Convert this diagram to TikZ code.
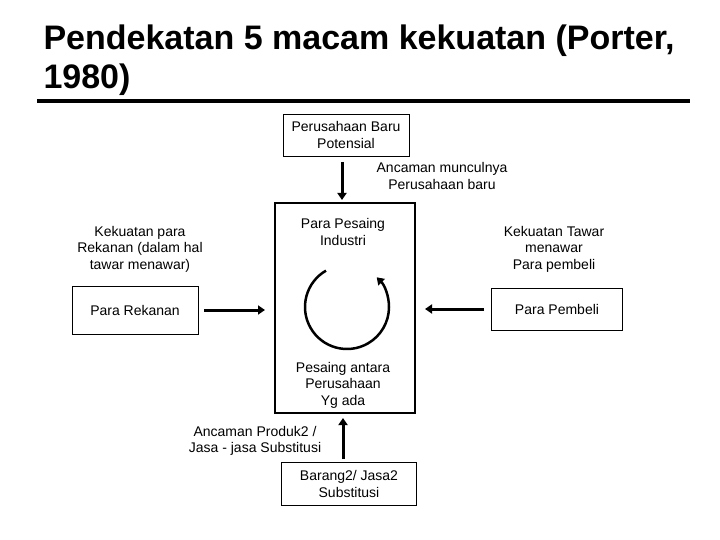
\documentclass[tikz,border=0pt]{standalone}
\usepackage{fontspec}
\setmainfont{Liberation Sans}
\usetikzlibrary{arrows.meta}
\begin{document}
\begin{tikzpicture}[x=1pt,y=-1pt,
  box/.style={draw,line width=0.8pt,align=center,font=\fontsize{14}{16.5}\selectfont,inner sep=0},
  lbl/.style={align=center,font=\fontsize{14}{16.5}\selectfont},
  arr/.style={line width=3pt,-{Triangle[length=7pt,width=9pt]}}]
\useasboundingbox (0,0) rectangle (720,540);
\node[anchor=west,font=\bfseries\fontsize{34}{38}\selectfont] (t1) at (40,41) {Pendekatan 5 macam kekuatan (Porter,};
\node[anchor=west,font=\bfseries\fontsize{34}{38}\selectfont] (t2) at (40,80) {1980)};
\draw[line width=3.5pt] (37,101) -- (690,101);
\node[box,minimum width=126,minimum height=42] (top) at (346,135) {Perusahaan Baru\\Potensial};
\node[box,line width=2.5pt,minimum width=140,minimum height=210] (mid) at (345,308) {};
\node[lbl] (pi) at (343,232) {Para Pesaing\\Industri};
\node[lbl] (pa) at (343,385) {Pesaing antara\\Perusahaan\\Yg ada};
\node[box,minimum width=126,minimum height=48] (left) at (135,310) {Para Rekanan};
\node[box,minimum width=131,minimum height=42] (right) at (557,309) {Para Pembeli};
\node[box,minimum width=135,minimum height=43] (bot) at (349,484) {Barang2/ Jasa2\\Substitusi};
\node[lbl] (l1) at (442,176) {Ancaman munculnya\\Perusahaan baru};
\node[lbl] (l2) at (140,249) {Kekuatan para\\Rekanan (dalam hal\\tawar menawar)};
\node[lbl] (l3) at (554,249) {Kekuatan Tawar\\menawar\\Para pembeli};
\node[lbl] (l4) at (255,441) {Ancaman Produk2 /\\Jasa - jasa Substitusi};
\draw[arr] (342,162) -- (342,200);
\draw[arr] (left.east) ++(6,0) -- (265,310);
\draw[arr] (right.west) ++(-7,0) -- (425,309);
\draw[arr] (343,459) -- (343,418);
\coordinate (c) at (347,307);
\draw[line width=2.5pt,-{Triangle[length=7pt,width=9pt]}] ([shift={(-120:42)}]c) arc[start angle=-120,end angle=-405,radius=42];
\end{tikzpicture}
\end{document}
